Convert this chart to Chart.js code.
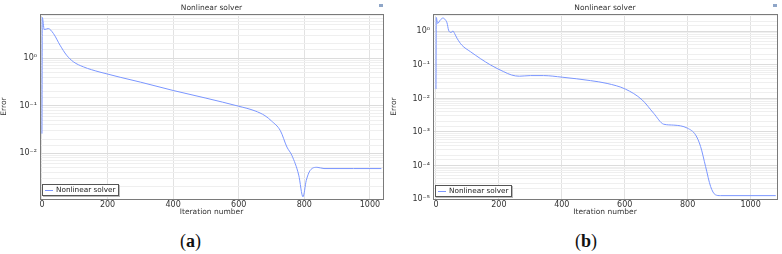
<!DOCTYPE html>
<html>
<head>
<meta charset="utf-8">
<script src="https://cdn.jsdelivr.net/npm/chart.js@4/dist/chart.umd.min.js"></script>
<style>
  body { margin: 0; background: #fff; width: 782px; height: 254px; position: relative; overflow: hidden; font-family: "DejaVu Sans", sans-serif; }
  .panel { position: absolute; top: 0; height: 217px; }
  .ttl { position: absolute; top: 3px; font-size: 7.5px; color: #333; text-align: center; }
  .icon { position: absolute; top: 4px; width: 4px; height: 3px; background: #8fa6c8; }
  .legend { position: absolute; border: 1px solid #555; background: #fff; font-size: 7.3px; color: #222; line-height: 10px; padding: 0 2px 0 2px; box-shadow: 1px 1px 0 #bbb; white-space: nowrap; }
  .legend span.sw { display: inline-block; width: 8px; height: 1px; background: #7b96ff; vertical-align: middle; margin-right: 3px; }
  .cap { position: absolute; top: 231px; font-family: "Liberation Serif", serif; font-size: 18px; color: #111; }
  .cap b { font-weight: bold; }
</style>
</head>
<body>
<div class="panel" style="left:0;width:390px"><canvas id="chartA"></canvas></div>
<div class="panel" style="left:390px;width:392px"><canvas id="chartB"></canvas></div>

<div class="ttl" style="left:40px;width:343px">Nonlinear solver</div>
<div class="ttl" style="left:433px;width:344px">Nonlinear solver</div>
<div class="icon" style="left:379px"></div>
<div class="icon" style="left:773px"></div>

<div class="legend" style="left:42px;top:184px"><span class="sw"></span>Nonlinear solver</div>
<div class="legend" style="left:435px;top:185px"><span class="sw"></span>Nonlinear solver</div>

<div class="cap" style="left:180px">(<b>a</b>)</div>
<div class="cap" style="left:575px">(<b>b</b>)</div>

<script>
// panel (a)
const iterA = [0, 1, 7, 19, 35, 55, 75, 96, 126, 177, 300, 400, 500, 600, 650, 680, 700, 727, 747, 762, 783, 796, 806, 818, 839, 860, 950, 1035];
const errA  = [0.026, 7.2, 4.0, 4.2, 3.3, 1.88, 1.16, 0.84, 0.66, 0.51, 0.315, 0.21, 0.145, 0.098, 0.078, 0.062, 0.048, 0.030, 0.0136, 0.0091, 0.0035, 0.00122, 0.0027, 0.0044, 0.0051, 0.0048, 0.0048, 0.0048];

// panel (b)
const iterB = [0, 1, 5, 14, 22, 30, 35, 40, 48, 54, 59, 67, 82, 109, 173, 215, 240, 265, 300, 342, 401, 491, 544, 602, 655, 692, 724, 756, 799, 825, 841, 857, 873, 888, 904, 1080];
const errB  = [0.019, 2.6, 1.73, 2.2, 2.5, 2.2, 1.8, 1.09, 0.93, 1.03, 0.87, 0.62, 0.39, 0.25, 0.10, 0.063, 0.050, 0.046, 0.048, 0.048, 0.043, 0.034, 0.028, 0.019, 0.0091, 0.0036, 0.0017, 0.0016, 0.0013, 0.00082, 0.00037, 0.000093, 0.0000235, 0.0000134, 0.0000126, 0.0000126];

const xTicks = [0, 200, 400, 600, 800, 1000];
const seriesLabel = 'Nonlinear solver';

const sup = { '-': '⁻', '0': '⁰', '1': '¹', '2': '²', '3': '³', '4': '⁴', '5': '⁵', '6': '⁶', '7': '⁷', '8': '⁸', '9': '⁹' };
function isPow(v) {
  const e = Math.log10(v);
  return Math.abs(e - Math.round(e)) < 1e-6;
}
function powLabel(v) {
  if (!isPow(v)) return '';
  return '10' + String(Math.round(Math.log10(v))).split('').map(c => sup[c]).join('');
}

// box round the plot area
const frame = {
  id: 'frame',
  afterDraw(chart) {
    const a = chart.chartArea, ctx = chart.ctx;
    ctx.save();
    ctx.strokeStyle = '#7a7a7a';
    ctx.lineWidth = 1;
    ctx.strokeRect(Math.round(a.left) + 0.5, Math.round(a.top) + 0.5, Math.round(a.right - a.left), Math.round(a.bottom - a.top));
    ctx.restore();
  }
};

function makeChart(id, xs, ys, xmin, xmax, ymin, ymax, yWidth, padRight) {
  const ctx = document.getElementById(id).getContext('2d');
  return new Chart(ctx, {
    type: 'line',
    data: {
      datasets: [{
        label: seriesLabel,
        data: xs.map((x, i) => ({ x: x, y: ys[i] })),
        borderColor: '#7b96ff',
        borderWidth: 1,
        pointRadius: 0,
        fill: false,
        cubicInterpolationMode: 'monotone'
      }]
    },
    options: {
      responsive: true,
      maintainAspectRatio: false,
      animation: false,
      layout: { padding: { top: 14, right: padRight, left: 0, bottom: 0 } },
      plugins: { legend: { display: false }, tooltip: { enabled: false } },
      scales: {
        x: {
          type: 'linear',
          min: xmin, max: xmax,
          afterBuildTicks: s => { s.ticks = xTicks.map(v => ({ value: v })); },
          afterFit: s => { s.height = 18; },
          grid: { color: '#e2e2e2', drawTicks: false },
          border: { display: false },
          ticks: { callback: v => String(v), font: { family: 'DejaVu Sans', size: 8 }, color: '#333', padding: 1, maxRotation: 0 },
          title: { display: true, text: 'Iteration number', font: { family: 'DejaVu Sans', size: 7.5 }, color: '#333', padding: 0 }
        },
        y: {
          type: 'logarithmic',
          min: ymin, max: ymax,
          afterFit: s => { s.width = yWidth; },
          grid: {
            drawTicks: false,
            color: c => (c.tick && isPow(c.tick.value)) ? '#dcdcdc' : '#efefef'
          },
          border: { display: false },
          ticks: { autoSkip: false, callback: v => powLabel(v), font: { family: 'DejaVu Sans', size: 8 }, color: '#333', padding: 3 },
          title: { display: true, text: 'Error', font: { family: 'DejaVu Sans', size: 7.5 }, color: '#333', padding: 0 }
        }
      }
    },
    plugins: [frame]
  });
}

makeChart('chartA', iterA, errA, -6, 1040, 0.0011, 8.5, 40, 7);
makeChart('chartB', iterB, errB, -9.5, 1084, 0.00001, 3.3, 43, 5);
</script>
</body>
</html>
